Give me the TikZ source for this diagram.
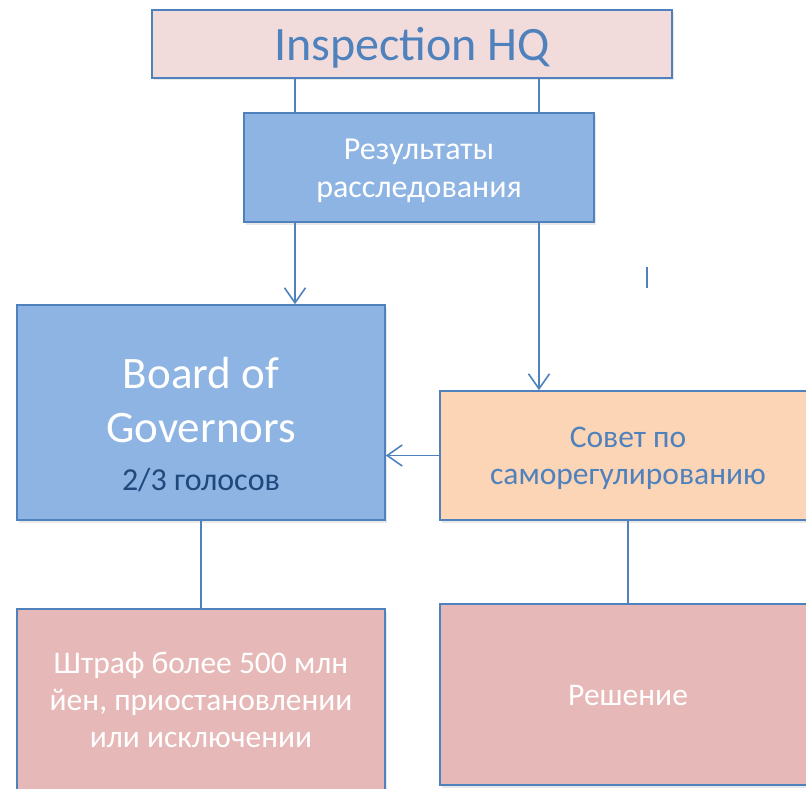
\documentclass[tikz,border=0pt]{standalone}
\usepackage{fontspec}
\setmainfont{Carlito}
\usetikzlibrary{arrows.meta,shadows}
\definecolor{edgeblue}{RGB}{79,129,189}
\definecolor{hqbg}{RGB}{242,220,219}
\definecolor{bluebg}{RGB}{141,180,226}
\definecolor{peachbg}{RGB}{251,213,181}
\definecolor{rosebg}{RGB}{230,185,184}
\definecolor{votetext}{RGB}{31,73,125}
\newcommand{\topstrut}{\rule{0pt}{0.952em}}
\newcommand{\botstrut}{\rule[-0.269em]{0pt}{0.269em}}

\begin{document}
\begin{tikzpicture}[x=1pt,y=-1pt,
    box/.style={draw=edgeblue,line width=1.6pt,align=center,inner sep=0pt,
      drop shadow={opacity=0.18,shadow xshift=1.5pt,shadow yshift=-2.5pt},
      execute at end node=\botstrut},
    link/.style={draw=edgeblue,line width=1.6pt},
    arr/.style={link,-{Straight Barb[length=15pt,width=21pt]}}]
  \useasboundingbox (0,0) rectangle (806,789);
  \clip (0,0) rectangle (806,789);
  \node[box,fill=hqbg,text=edgeblue,font=\fontsize{48}{58}\selectfont,
        minimum width=520pt,minimum height=68pt] (hq) at (412,44) {\topstrut Inspection HQ};
  \node[box,fill=bluebg,text=white,font=\fontsize{32}{38}\selectfont,
        minimum width=350pt,minimum height=109pt] (res) at (419,167.5) {\topstrut Результаты\\расследования};
  \node[box,fill=bluebg,text=white,font=\fontsize{45}{54}\selectfont,
        minimum width=368pt,minimum height=215pt] (board) at (201,412.5)
        {\rule{0pt}{67pt}Board of\\Governors\\[-6pt]{\fontsize{32}{36}\selectfont\color{votetext}2/3 голосов}};
  \node[box,fill=peachbg,text=edgeblue,font=\fontsize{31.5}{37}\selectfont,
        minimum width=376pt,minimum height=129pt] (council) at (628,455.5) {\topstrut Совет по\\саморегулированию};
  \node[box,fill=rosebg,text=white,font=\fontsize{31.5}{37}\selectfont,
        minimum width=368pt,minimum height=181pt] (penalty) at (201,699.5)
        {\topstrut Штраф более 500 млн\\йен, приостановлении\\или исключении};
  \node[box,fill=rosebg,text=white,font=\fontsize{31.5}{37}\selectfont,
        minimum width=376pt,minimum height=181pt] (decision) at (628,694.5) {\topstrut Решение};
  % connector columns
  \coordinate (colL) at (295,0);
  \coordinate (colR) at (539,0);
  \draw[link] (hq.south -| colL) -- (res.north -| colL);
  \draw[link] (hq.south -| colR) -- (res.north -| colR);
  \draw[arr] (res.south -| colL) -- (board.north -| colL);
  \draw[arr] (res.south -| colR) -- (council.north -| colR);
  \draw[arr] (council.west) -- (board.east |- council.west);
  \draw[link] (board.south) -- (penalty.north);
  \draw[link] (council.south) -- (decision.north);
  \draw[link] (647,267) -- (647,288);
\end{tikzpicture}
\end{document}
